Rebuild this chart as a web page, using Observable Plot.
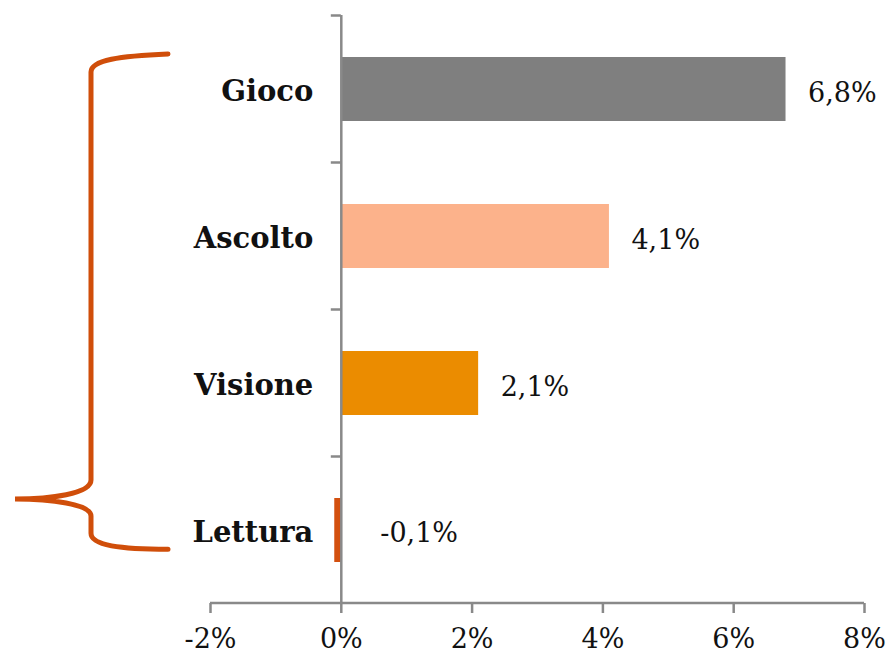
<!DOCTYPE html>
<html>
<head>
<meta charset="utf-8">
<script src="https://cdn.jsdelivr.net/npm/d3@7"></script>
<script src="https://cdn.jsdelivr.net/npm/@observablehq/plot@0.6"></script>
<style>
  html, body { margin: 0; padding: 0; background: #fff; }
  #chart svg { display: block; }
</style>
</head>
<body>
<div id="chart"></div>
<script>
const categories = ["Gioco", "Ascolto", "Visione", "Lettura"];
const values = [6.8, 4.1, 2.1, -0.1];
const colors = ["#7F7F7F", "#FCB28B", "#EB8C00", "#D3500F"];
const xTicks = [-2, 0, 2, 4, 6, 8];

const data = categories.map((c, i) => ({cat: c, v: values[i]}));
const fmt = v => v.toFixed(1).replace(".", ",") + "%";
const axisColor = "#898989";
const font = "'DejaVu Serif', Georgia, serif";

const chart = Plot.plot({
  width: 888,
  height: 656,
  marginLeft: 210,
  marginRight: 24,
  marginTop: 15,
  marginBottom: 53,
  style: {fontFamily: font, background: "#fff", overflow: "visible"},
  x: {domain: [-2, 8], axis: null},
  y: {domain: categories, paddingInner: 0.565, paddingOuter: 0.2825, axis: null},
  color: {domain: categories, range: colors},
  marks: [
    Plot.barX(data, {x: "v", y: "cat", fill: "cat"}),
    Plot.ruleX([0], {stroke: axisColor, strokeWidth: 2.5}),
    Plot.axisX({ticks: xTicks, label: null, tickSize: 10, tickPadding: 15, stroke: axisColor, strokeWidth: 2.5,
      fill: "#111", fontSize: 27, tickFormat: d => d + "%"}),
    Plot.text(data, {x: () => 0, y: "cat", text: "cat", textAnchor: "end", dx: -28, dy: 2,
      fontSize: 29, fontWeight: "bold", fill: "#111"}),
    Plot.text(data.filter(d => d.v >= 0), {x: "v", y: "cat", text: d => fmt(d.v), textAnchor: "start",
      dx: 22, dy: 4, fontSize: 27, fill: "#111"}),
    Plot.text(data.filter(d => d.v < 0), {x: () => 0, y: "cat", text: d => fmt(d.v), textAnchor: "start",
      dx: 39, dy: 3, fontSize: 27, fill: "#111"})
  ]
});

document.getElementById("chart").appendChild(chart);

(function decorate() {
  const xs = chart.scale("x");
  const ys = chart.scale("y");
  const svg = d3.select(chart);
  const x0 = xs.apply(0);
  const xL = xs.apply(-2), xR = xs.apply(8);
  const step = ys.step, bw = ys.bandwidth;
  const yBottom = ys.range[1];

  // bottom axis line
  svg.append("line").attr("x1", xL).attr("x2", xR).attr("y1", yBottom).attr("y2", yBottom)
    .attr("stroke", axisColor).attr("stroke-width", 2.5);

  // category boundary ticks on the vertical axis
  const boundaries = categories.map(c => ys.apply(c) - (step - bw) / 2);
  svg.append("g").selectAll("line").data(boundaries).join("line")
    .attr("x1", x0 - 10).attr("x2", x0).attr("y1", d => d).attr("y2", d => d)
    .attr("stroke", axisColor).attr("stroke-width", 2.5);

  // curly brace
  const yTop = ys.apply(categories[0]) - 3;
  const yTip = ys.apply(categories[3]) + 1;
  const yBot = ys.apply(categories[3]) + 0.8 * bw;
  const xe = 168, xv = 91, xt = 15;
  const p = d3.path();
  p.moveTo(xe, yTop);
  p.bezierCurveTo(120, yTop + 2, xv, yTop + 6, xv, yTop + 18);
  p.lineTo(xv, yTip - 19);
  p.bezierCurveTo(xv, yTip - 5, 50, yTip, xt, yTip);
  p.bezierCurveTo(50, yTip, xv, yTip + 5, xv, yTip + 17);
  p.lineTo(xv, yBot - 16);
  p.bezierCurveTo(xv, yBot - 4, 120, yBot, xe, yBot);
  svg.append("path").attr("d", p.toString()).attr("fill", "none")
    .attr("stroke", "#D04E0A").attr("stroke-width", 5).attr("stroke-linecap", "round");
})();
</script>
</body>
</html>
